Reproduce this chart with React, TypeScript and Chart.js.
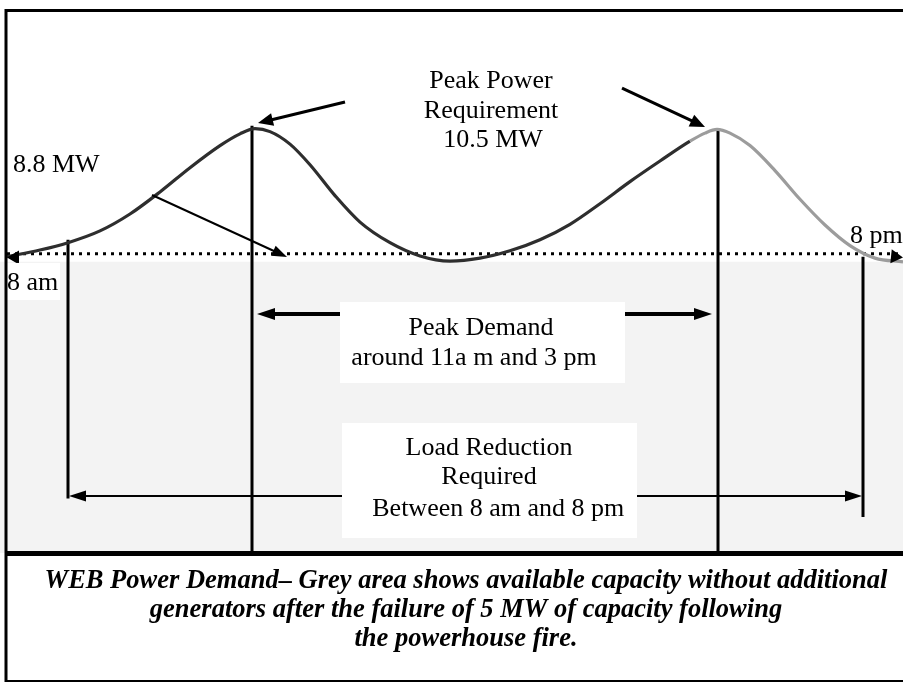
import { useEffect, useRef } from 'react';
import { Chart, registerables } from 'chart.js';

Chart.register(...registerables);

// Horizontal position along the (schematic) day, in diagram units
const timeUnits = [0.7, 4, 6.8, 10, 13, 16, 19, 22, 24, 25.5, 27, 29, 31, 33.5, 36, 39, 42, 45, 48, 51, 54, 57, 60, 63, 66, 69, 70.5, 71.7, 73, 75, 77.5, 80, 82.5, 85, 87.5, 90.3];
// Power demand in MW
const demandMW = [8.76, 8.85, 8.95, 9.11, 9.34, 9.64, 9.97, 10.27, 10.43, 10.50, 10.46, 10.29, 10.01, 9.59, 9.23, 8.95, 8.77, 8.70, 8.74, 8.84, 8.99, 9.20, 9.48, 9.78, 10.06, 10.33, 10.44, 10.49, 10.44, 10.27, 9.93, 9.54, 9.19, 8.91, 8.74, 8.69];

const dottedLevelMW = 8.8;
const dottedStart = 0.7;
const dottedEnd = 90.3;
const availableCapacityMW = 8.69;
const greySpan = [0, 93.2];

// vertical marker lines: 8 am, 11 am, 3 pm, 8 pm
const markerTimes = [6.8, 25.2, 71.8, 86.3];
const markerTops = [8.99, 10.54, 10.47, 8.76];
const markerBottoms = [5.47, 4.73, 4.73, 5.22];

const peakLabel = ['Peak Power', 'Requirement', '10.5 MW'];
const levelLabel = '8.8 MW';
const startLabel = '8 am';
const endLabel = '8 pm';
const peakDemandLabel = ['Peak Demand', 'around 11a m and 3 pm'];
const reductionLabel = ['Load Reduction', 'Required', ' Between 8 am and 8 pm'];
const captionLines = [
  'WEB Power Demand\u2013 Grey area shows available capacity without additional',
  'generators after the failure of 5 MW of capacity following',
  'the powerhouse fire.',
];

const SERIF = '"Liberation Serif", "Times New Roman", serif';

function drawHead(ctx: CanvasRenderingContext2D, tx: number, ty: number, dx: number, dy: number, L: number, W: number) {
  const len = Math.hypot(dx, dy) || 1;
  const ux = dx / len, uy = dy / len;
  const bx = tx - ux * L, by = ty - uy * L;
  ctx.beginPath();
  ctx.moveTo(tx, ty);
  ctx.lineTo(bx - uy * W, by + ux * W);
  ctx.lineTo(bx + uy * W, by - ux * W);
  ctx.closePath();
  ctx.fill();
}

function drawArrow(ctx: CanvasRenderingContext2D, x1: number, y1: number, x2: number, y2: number, lw: number, L: number, W: number) {
  const dx = x2 - x1, dy = y2 - y1;
  const len = Math.hypot(dx, dy) || 1;
  ctx.lineWidth = lw;
  ctx.beginPath();
  ctx.moveTo(x1, y1);
  ctx.lineTo(x2 - (dx / len) * L * 0.8, y2 - (dy / len) * L * 0.8);
  ctx.stroke();
  drawHead(ctx, x2, y2, dx, dy, L, W);
}

const annotationPlugin = {
  id: 'annotations',
  afterDatasetsDraw(chart: any) {
    const { ctx } = chart;
    const xs = chart.scales.x, ys = chart.scales.y;
    const X = (v: number) => xs.getPixelForValue(v);
    const Y = (v: number) => ys.getPixelForValue(v);
    ctx.save();
    ctx.fillStyle = '#000';
    ctx.strokeStyle = '#000';
    ctx.lineCap = 'butt';

    // dotted line arrowheads
    drawHead(ctx, X(dottedStart), Y(8.75), -1, 0, 12, 7);
    drawHead(ctx, X(dottedEnd), Y(8.75), 1, 0.1, 12, 7);

    // pointer arrows
    drawArrow(ctx, X(34.5), Y(10.863), X(25.8), Y(10.577), 3, 15, 6.5);
    drawArrow(ctx, X(62.2), Y(11.053), X(70.5), Y(10.523), 3, 15, 6.5);
    drawArrow(ctx, X(15.2), Y(9.598), X(28.7), Y(8.755), 2, 15, 5.5);

    // peak demand arrows
    drawArrow(ctx, X(34.0), Y(7.98), X(25.7), Y(7.98), 4, 18, 6);
    drawArrow(ctx, X(62.5), Y(7.98), X(71.2), Y(7.98), 4, 18, 6);

    // load reduction double arrow
    ctx.lineWidth = 2;
    ctx.beginPath();
    ctx.moveTo(X(7.5), Y(5.505));
    ctx.lineTo(X(85.6), Y(5.505));
    ctx.stroke();
    drawHead(ctx, X(6.9), Y(5.505), -1, 0, 17, 5.5);
    drawHead(ctx, X(86.2), Y(5.505), 1, 0, 17, 5.5);

    // white label boxes
    ctx.fillStyle = '#ffffff';
    const box = (x1: number, x2: number, y1: number, y2: number) => {
      ctx.fillRect(X(x1), Y(y1), X(x2) - X(x1), Y(y2) - Y(y1));
    };
    box(34.0, 62.5, 8.143, 7.042);
    box(34.2, 63.7, 6.498, 4.934);
    box(0.7, 6.0, 8.674, 8.171);

    // texts
    ctx.fillStyle = '#000';
    ctx.font = `26px ${SERIF}`;
    ctx.textBaseline = 'alphabetic';
    ctx.textAlign = 'center';
    ctx.fillText(peakLabel[0], X(49.1), Y(11.053));
    ctx.fillText(peakLabel[1], X(49.1), Y(10.652));
    ctx.fillText(peakLabel[2], X(49.3), Y(10.251));
    ctx.fillText(peakDemandLabel[0], X(48.1), Y(7.695));
    ctx.fillText(peakDemandLabel[1], X(47.4), Y(7.287));
    ctx.fillText(reductionLabel[0], X(48.9), Y(6.063));
    ctx.fillText(reductionLabel[1], X(48.9), Y(5.669));
    ctx.fillText(reductionLabel[2], X(49.5), Y(5.233));
    ctx.textAlign = 'left';
    ctx.fillText(levelLabel, X(1.3), Y(9.911));
    ctx.fillText(startLabel, X(0.7), Y(8.307));
    ctx.fillText(endLabel, X(85.0), Y(8.946));
    ctx.restore();
  },
  afterDraw(chart: any) {
    const { ctx, chartArea } = chart;
    ctx.save();
    ctx.strokeStyle = '#000';
    // separator between diagram and caption
    ctx.lineWidth = 5;
    ctx.beginPath();
    ctx.moveTo(5, chartArea.bottom + 0.5);
    ctx.lineTo(chart.width, chartArea.bottom + 0.5);
    ctx.stroke();
    // outer frame
    ctx.lineWidth = 3;
    ctx.beginPath();
    ctx.moveTo(4.5, 10.5);
    ctx.lineTo(929, 10.5);
    ctx.moveTo(6, 9);
    ctx.lineTo(6, 682);
    ctx.stroke();
    ctx.lineWidth = 2;
    ctx.beginPath();
    ctx.moveTo(5, 681);
    ctx.lineTo(929, 681);
    ctx.stroke();
    ctx.restore();
  },
};

export default function App() {
  const ref = useRef<HTMLCanvasElement | null>(null);
  useEffect(() => {
    if (!ref.current) return;
    const curve = timeUnits.map((t, i) => ({ x: t, y: demandMW[i] }));
    const verticals = markerTimes.map((t, i) => ({
      type: 'line' as const,
      data: [{ x: t, y: markerTops[i] }, { x: t, y: markerBottoms[i] }],
      borderColor: '#000',
      borderWidth: 3,
      pointRadius: 0,
      fill: false,
      order: 2,
    }));
    const chart = new Chart(ref.current, {
      type: 'line',
      data: {
        datasets: [
          {
            data: curve,
            borderWidth: 3.2,
            borderColor: '#2e2e2e',
            cubicInterpolationMode: 'monotone',
            pointRadius: 0,
            fill: false,
            order: 1,
            segment: {
              borderColor: (c: any) => (c.p0.parsed.x >= 68 ? '#9c9c9c' : '#2e2e2e'),
            },
          } as any,
          ...verticals,
          {
            data: [{ x: dottedStart, y: dottedLevelMW }, { x: dottedEnd, y: dottedLevelMW }],
            borderColor: '#000',
            borderWidth: 3,
            borderDash: [3, 5],
            pointRadius: 0,
            fill: false,
            order: 3,
          },
          {
            data: [{ x: greySpan[0], y: availableCapacityMW }, { x: greySpan[1], y: availableCapacityMW }],
            borderWidth: 0,
            borderColor: 'rgba(0,0,0,0)',
            backgroundColor: '#f3f3f3',
            pointRadius: 0,
            fill: 'start',
            order: 10,
          },
        ],
      },
      options: {
        animation: false,
        responsive: false,
        maintainAspectRatio: false,
        layout: { padding: 0 },
        scales: {
          x: { type: 'linear', min: 0, max: 93.2, display: false },
          y: { type: 'linear', min: 4.73, max: 12.25, display: false },
        },
        plugins: {
          legend: { display: false },
          tooltip: { enabled: false },
          title: {
            display: true,
            position: 'bottom',
            text: captionLines,
            color: '#000',
            font: { family: SERIF, size: 26.5, style: 'italic', weight: 'bold', lineHeight: 29 / 26.5 },
            padding: { top: 13.5, bottom: 28.5 },
          },
        },
      },
      plugins: [annotationPlugin],
    });
    return () => chart.destroy();
  }, []);
  return (
    <div style={{ position: 'fixed', left: 0, top: 0, width: 903, height: 682, overflow: 'hidden', background: '#fff' }}>
      <canvas ref={ref} width={932} height={682} style={{ display: 'block', width: 932, height: 682 }} />
    </div>
  );
}
